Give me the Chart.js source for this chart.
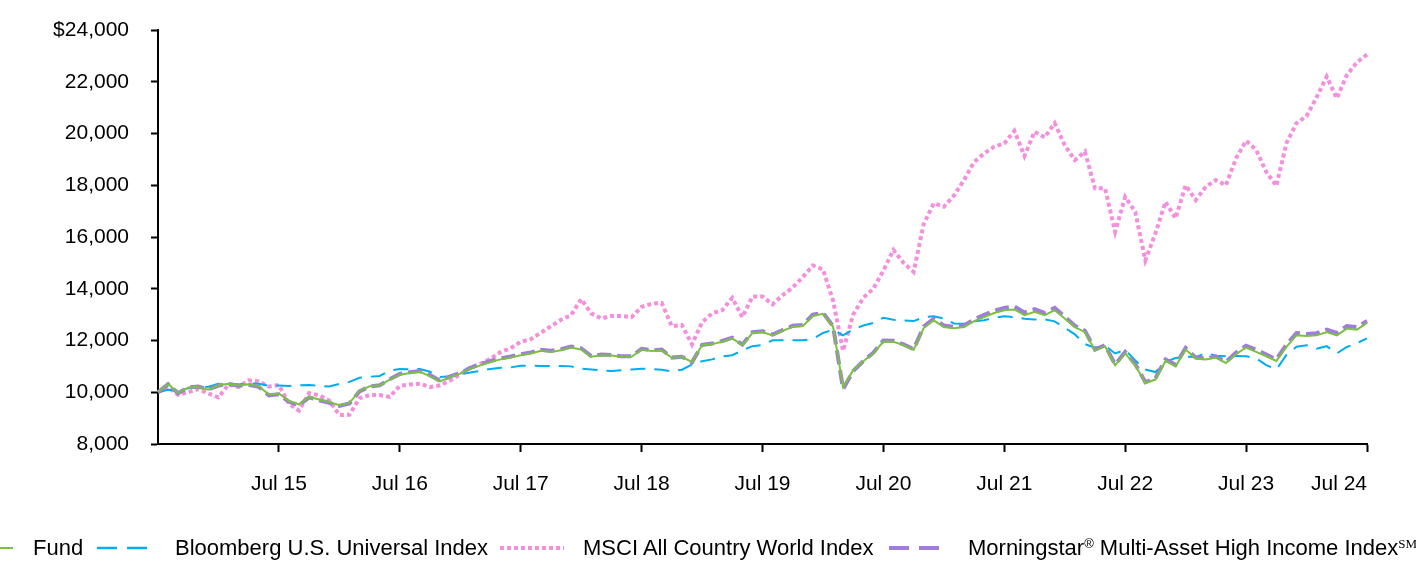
<!DOCTYPE html>
<html>
<head>
<meta charset="utf-8">
<script src="https://cdn.jsdelivr.net/npm/chart.js@4.4.1/dist/chart.umd.min.js"></script>
<style>
    html, body { margin: 0; padding: 0; background: #fff; }
    #wrap { position: relative; width: 1416px; height: 564px; overflow: hidden; }
    #chart { position: absolute; left: 0; top: 0; }
    .lg { position: absolute; top: 548px; transform: translateY(-50%); font-family: "Liberation Sans", Arial, sans-serif; font-size: 22px; line-height: 1; color: #000; white-space: nowrap; }
    .lg svg { display: block; }
    .lg sup { font-size: 13px; vertical-align: 0; position: relative; top: -7px; }
    .sm { font-family: "Liberation Serif", "Times New Roman", serif; }
</style>
</head>
<body>
<div id="wrap">
    <canvas id="chart" width="1416" height="564"></canvas>
    <div class="lg" style="left:-37px"><svg width="50" height="6"><line x1="0" y1="3" x2="50" y2="3" stroke="#7AC143" stroke-width="2"/></svg></div>
    <div class="lg" style="left:33px">Fund</div>
    <div class="lg" style="left:97px"><svg width="50" height="6"><line x1="0" y1="3" x2="50" y2="3" stroke="#00AEEF" stroke-width="2.5" stroke-dasharray="20 10"/></svg></div>
    <div class="lg" style="left:175px">Bloomberg U.S. Universal Index</div>
    <div class="lg" style="left:500px"><svg width="64" height="6"><line x1="0" y1="3" x2="64" y2="3" stroke="#F48FDD" stroke-width="4" stroke-dasharray="4 3"/></svg></div>
    <div class="lg" style="left:583px">MSCI All Country World Index</div>
    <div class="lg" style="left:889px"><svg width="51" height="6"><line x1="0" y1="3" x2="51" y2="3" stroke="#A07CDC" stroke-width="4" stroke-dasharray="20 10"/></svg></div>
    <div class="lg" style="left:968px">Morningstar<sup>®</sup> Multi-Asset High Income Index<sup class="sm">SM</sup></div>
</div>
<script>
// Monthly values, Jul 2014 .. Jul 2024 (121 points)
const MONTH_NAMES = ['Jan', 'Feb', 'Mar', 'Apr', 'May', 'Jun', 'Jul', 'Aug', 'Sep', 'Oct', 'Nov', 'Dec'];
const months = [];
for (let i = 0; i <= 120; i++) {
    const m = (6 + i) % 12;
    const yy = 14 + Math.floor((6 + i) / 12);
    months.push(MONTH_NAMES[m] + ' ' + yy);
}

const xTickLabels = ['Jul 15', 'Jul 16', 'Jul 17', 'Jul 18', 'Jul 19', 'Jul 20', 'Jul 21', 'Jul 22', 'Jul 23', 'Jul 24'];

const fund = [
    10000, 10330, 9970, 10180, 10200, 10100, 10270, 10330, 10260, 10310, 10230, 9910,
    9950, 9660, 9530, 9820, 9720, 9620, 9500, 9590, 10050, 10230, 10270, 10490,
    10680, 10740, 10790, 10620, 10420, 10590, 10720, 10910, 11040, 11170, 11270, 11340,
    11430, 11500, 11600, 11560, 11620, 11730, 11650, 11370, 11430, 11420, 11370, 11370,
    11650, 11590, 11620, 11330, 11360, 11170, 11820, 11860, 11950, 12080, 11820, 12290,
    12330, 12200, 12370, 12530, 12560, 12950, 13030, 12540, 10200, 10850, 11200, 11500,
    11960, 11950, 11820, 11640, 12480, 12780, 12520, 12470, 12520, 12750, 12910, 13060,
    13170, 13200, 12980, 13110, 12980, 13170, 12850, 12520, 12330, 11620, 11780, 11040,
    11500, 11040, 10360, 10490, 11210, 11000, 11650, 11300, 11270, 11340, 11130, 11470,
    11730, 11560, 11390, 11210, 11750, 12200, 12170, 12200, 12330, 12200, 12460, 12420,
    12680
];

const bloomberg = [
    10000, 10100, 10050, 10150, 10190, 10210, 10330, 10340, 10300, 10350, 10330, 10250,
    10260, 10240, 10270, 10280, 10250, 10220, 10320, 10400, 10560, 10600, 10630, 10840,
    10900, 10890, 10900, 10790, 10590, 10620, 10700, 10760, 10830, 10900, 10950, 10960,
    11020, 11030, 11010, 11010, 11010, 11000, 10910, 10880, 10850, 10820, 10850, 10880,
    10910, 10900, 10870, 10810, 10870, 11070, 11200, 11270, 11390, 11430, 11620, 11780,
    11830, 12010, 12010, 12010, 12010, 12060, 12290, 12420, 12200, 12430, 12580, 12680,
    12880, 12800, 12780, 12750, 12900, 12940, 12850, 12660, 12650, 12740, 12780, 12880,
    12940, 12900, 12840, 12810, 12820, 12740, 12490, 12240, 11860, 11720, 11800, 11500,
    11640, 11230, 10880, 10780, 11170, 11320, 11370, 11360, 11520, 11410, 11390, 11400,
    11390, 11310, 11050, 10880, 11440, 11760, 11820, 11680, 11780, 11500, 11750, 11900,
    12080
];

const msciAcwi = [
    10000, 10200, 9900, 10000, 10120, 9950, 9800, 10300, 10200, 10460, 10420, 10220,
    10280, 9550, 9290, 9970, 9880, 9680, 9120, 9130, 9770, 9890, 9890, 9820,
    10250, 10300, 10330, 10200, 10270, 10450, 10700, 10950, 11100, 11300, 11550, 11700,
    11950, 12050, 12300, 12550, 12800, 12980, 13600, 13050, 12850, 12950, 12950, 12900,
    13300, 13420, 13450, 12550, 12600, 11850, 12700, 13050, 13170, 13650, 12900, 13700,
    13700, 13400, 13750, 14050, 14450, 14900, 14750, 13550, 11600, 13000, 13650, 14000,
    14700, 15500, 15000, 14650, 16500, 17300, 17170, 17600, 18200, 18900, 19230, 19490,
    19620, 20100, 19130, 20070, 19850, 20400, 19550, 18970, 19300, 17880, 17880, 16200,
    17550, 16970, 15100, 16140, 17360, 16720, 18000, 17430, 17940, 18200, 18000, 19040,
    19720, 19360, 18520, 17970, 19620, 20400, 20670, 21400, 22200, 21360, 22260, 22750,
    23050
];

const morningstar = [
    10000, 10310, 9960, 10190, 10220, 10110, 10260, 10320, 10250, 10290, 10210, 9880,
    9920, 9630, 9500, 9800, 9690, 9590, 9470, 9570, 10030, 10220, 10270, 10500,
    10710, 10770, 10820, 10660, 10440, 10610, 10740, 10940, 11080, 11210, 11310, 11380,
    11470, 11540, 11640, 11600, 11660, 11770, 11700, 11400, 11460, 11440, 11390, 11390,
    11680, 11620, 11650, 11340, 11370, 11160, 11830, 11880, 11980, 12110, 11840, 12320,
    12360, 12230, 12400, 12570, 12600, 13000, 13070, 12560, 10120, 10820, 11200, 11530,
    12000, 11990, 11850, 11660, 12540, 12840, 12580, 12530, 12580, 12820, 12990, 13150,
    13260, 13320, 13080, 13210, 13070, 13260, 12920, 12570, 12380, 11650, 11820, 11070,
    11560, 11080, 10390, 10540, 11270, 11060, 11710, 11340, 11310, 11390, 11170, 11530,
    11800, 11640, 11460, 11270, 11840, 12290, 12250, 12280, 12420, 12290, 12560, 12520,
    12750
];

const FONT = { family: '"Liberation Sans", Arial, sans-serif', size: 21 };

function isShownTick(value) {
    return xTickLabels.includes(months[value]);
}

const ctx = document.getElementById('chart').getContext('2d');
const chart = new Chart(ctx, {
    type: 'line',
    data: {
        labels: months,
        datasets: [
            {
                label: 'Fund',
                data: fund,
                borderColor: '#7AC143',
                borderWidth: 2,
                order: 0
            },
            {
                label: 'Morningstar® Multi-Asset High Income Index℠',
                data: morningstar,
                borderColor: '#A07CDC',
                borderWidth: 4,
                borderDash: [14, 6],
                order: 1
            },
            {
                label: 'Bloomberg U.S. Universal Index',
                data: bloomberg,
                borderColor: '#00AEEF',
                borderWidth: 2,
                borderDash: [15, 9],
                order: 2
            },
            {
                label: 'MSCI All Country World Index',
                data: msciAcwi,
                borderColor: '#F48FDD',
                borderWidth: 4,
                borderDash: [4, 3],
                order: 3
            }
        ]
    },
    options: {
        responsive: false,
        animation: false,
        layout: {
            padding: { top: 30, right: 49, left: 0, bottom: 0 }
        },
        elements: {
            point: { radius: 0 },
            line: { tension: 0, fill: false, borderCapStyle: 'butt' }
        },
        plugins: {
            legend: { display: false },
            tooltip: { enabled: false }
        },
        scales: {
            x: {
                type: 'category',
                offset: false,
                afterFit: (scale) => { scale.height = 120; },
                border: { display: true, color: '#000', width: 2 },
                grid: {
                    drawOnChartArea: false,
                    drawTicks: true,
                    tickLength: 8,
                    tickWidth: 2,
                    tickColor: (c) => (c.tick && isShownTick(c.tick.value)) ? '#000' : 'rgba(0,0,0,0)'
                },
                ticks: {
                    autoSkip: false,
                    maxRotation: 0,
                    minRotation: 0,
                    align: 'inner',
                    padding: 20,
                    color: '#000',
                    font: FONT,
                    callback: function (value) {
                        // first (hidden) label keeps 'inner' alignment for the last one only
                        if (value === 0) return ' ';
                        return isShownTick(value) ? months[value] : null;
                    }
                }
            },
            y: {
                min: 8000,
                max: 24000,
                afterFit: (scale) => {
                    scale.width = 158;
                    // tick padding would otherwise push the plot top down
                    scale.paddingTop = 0;
                    scale.paddingBottom = 0;
                },
                border: { display: true, color: '#000', width: 2 },
                grid: {
                    drawOnChartArea: false,
                    drawTicks: true,
                    tickLength: 7,
                    tickWidth: 2,
                    tickColor: '#000'
                },
                ticks: {
                    stepSize: 2000,
                    padding: 22,
                    color: '#000',
                    font: FONT,
                    callback: (value) => (value === 24000 ? '$' : '') + value.toLocaleString('en-US')
                }
            }
        }
    }
});
</script>
</body>
</html>
